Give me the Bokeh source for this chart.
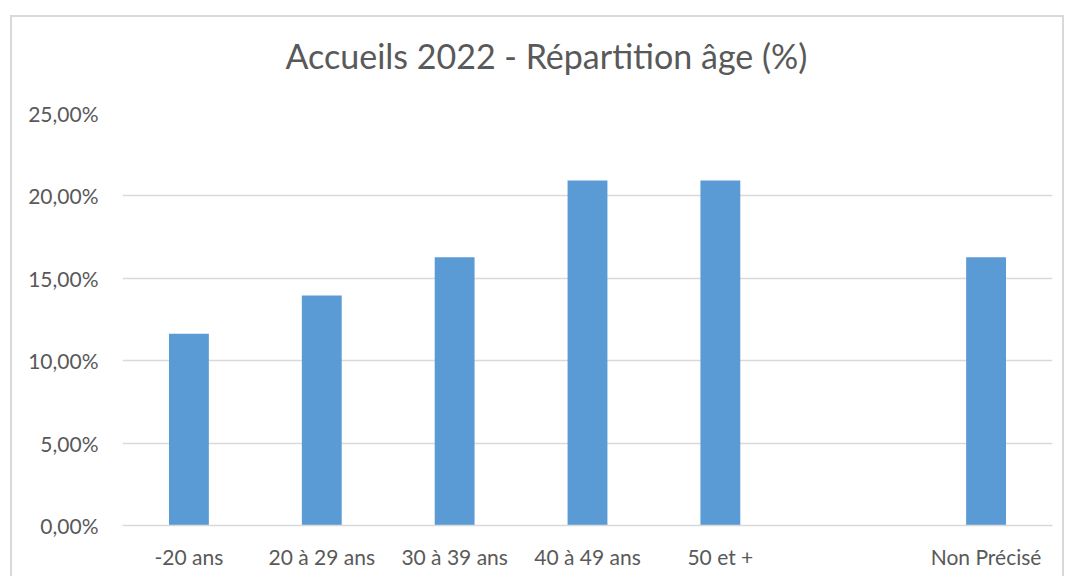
from bokeh.plotting import figure
from bokeh.models import FactorRange, Range1d, CustomJSTickFormatter, FixedTicker, ColumnDataSource
from bokeh.embed import file_html
from bokeh.resources import INLINE

title_text = "Accueils 2022 - Répartition âge (%)"
categories = ["-20 ans", "20 à 29 ans", "30 à 39 ans", "40 à 49 ans", "50 et +", " ", "Non Précisé"]
bar_categories = ["-20 ans", "20 à 29 ans", "30 à 39 ans", "40 à 49 ans", "50 et +", "Non Précisé"]
bar_values = [0.1163, 0.1395, 0.1628, 0.2093, 0.2093, 0.1628]
y_ticks = [0.0, 0.05, 0.10, 0.15, 0.20, 0.25]

FONT = "Lato"
TXT = "#595959"
GRID = "#d9d9d9"

p = figure(
    width=1054, height=561,
    x_range=FactorRange(factors=categories),
    y_range=Range1d(0, 0.25),
    output_backend="svg", toolbar_location=None,
    min_border_left=110, min_border_right=14, min_border_top=96, min_border_bottom=53,
    title=title_text,
    styles={"margin-left": "10px", "margin-top": "15px",
            "border-left": "2px solid #d9d9d9", "border-top": "2px solid #d9d9d9",
            "border-right": "2px solid #d9d9d9"},
)
p.outline_line_color = None

p.title.align = "left"
p.title.offset = 163
p.title.vertical_align = "top"
p.title.text_font = FONT
p.title.text_font_size = "34px"
p.title.text_font_style = "normal"
p.title.text_color = TXT
p.title.standoff = 24
p.title.padding = dict(left=0, right=0, top=0, bottom=24)

src = ColumnDataSource(dict(x=bar_categories, top=bar_values))
p.vbar(x="x", top="top", width=0.3, source=src, fill_color="#5b9bd5", line_color=None)

p.yaxis.ticker = FixedTicker(ticks=y_ticks)
p.yaxis.formatter = CustomJSTickFormatter(code="return (tick*100).toFixed(2).replace('.', ',') + '%';")
p.yaxis.axis_line_color = None
p.yaxis.major_tick_line_color = None
p.yaxis.minor_tick_line_color = None
p.yaxis.major_label_text_font = FONT
p.yaxis.major_label_text_font_size = "21px"
p.yaxis.major_label_text_color = TXT
p.yaxis.major_label_standoff = 18

p.xaxis.axis_line_color = GRID
p.xaxis.axis_line_width = 1.5
p.xaxis.major_tick_line_color = None
p.xaxis.minor_tick_line_color = None
p.xaxis.major_label_text_font = FONT
p.xaxis.major_label_text_font_size = "21px"
p.xaxis.major_label_text_color = TXT
p.xaxis.major_label_standoff = 12

p.xgrid.grid_line_color = None
p.ygrid.grid_line_color = GRID
p.ygrid.grid_line_width = 1.5
p.ygrid.ticker = FixedTicker(ticks=y_ticks)

open("out.html", "w").write(file_html(p, INLINE))
